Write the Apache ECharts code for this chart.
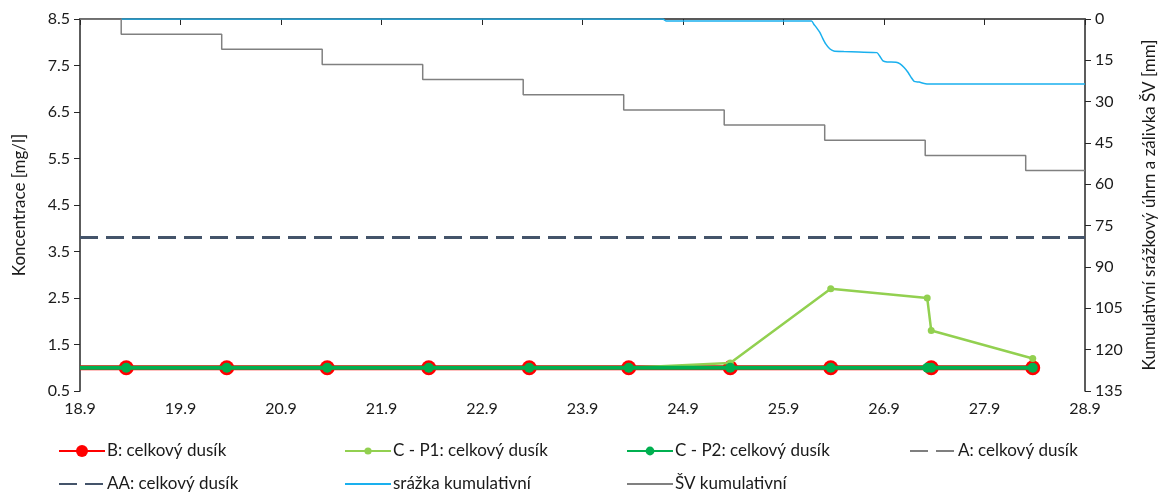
<!DOCTYPE html>
<html>
<head>
<meta charset="utf-8">
<script src="https://cdn.jsdelivr.net/npm/echarts@6/dist/echarts.min.js"></script>
<style>
  html, body { margin: 0; padding: 0; background: #fff; }
  #chart { width: 1168px; height: 495px; }
</style>
</head>
<body>
<div id="chart"></div>
<script>
// Day of September (x position) and tick labels
const xTickDays = [18, 19, 20, 21, 22, 23, 24, 25, 26, 27, 28];
const xTickLabels = ['18.9', '19.9', '20.9', '21.9', '22.9', '23.9', '24.9', '25.9', '26.9', '27.9', '28.9'];
const concTicks = [0.5, 1.5, 2.5, 3.5, 4.5, 5.5, 6.5, 7.5, 8.5];

// Sampling times (day of September) and total nitrogen concentrations [mg/l]
const sampleDays = [18.46, 19.46, 20.46, 21.47, 22.47, 23.46, 24.47, 25.47, 26.47, 27.48];
const nB = [1.0, 1.0, 1.0, 1.0, 1.0, 1.0, 1.0, 1.0, 1.0, 1.0];
const nA = [1.0, 1.0, 1.0, 1.0, 1.0, 1.0, 1.0, 1.0, 1.0, 1.0];
const p1Days = [18.46, 19.46, 20.46, 21.47, 22.47, 23.46, 24.47, 25.47, 26.43, 26.47, 27.48];
const nP1 = [1.0, 1.0, 1.0, 1.0, 1.0, 1.0, 1.1, 2.7, 2.5, 1.8, 1.2];
const p2Days = [18.46, 19.46, 20.46, 21.47, 22.47, 23.46, 24.47, 25.47, 26.43, 26.47, 27.48];
const nP2 = [1.0, 1.0, 1.0, 1.0, 1.0, 1.0, 1.0, 1.0, 1.0, 1.0, 1.0];
const limitDays = [18, 28];
const nAA = [3.8, 3.8];

// Cumulative rainfall [mm]
const rainDays = [18.41, 23.80, 23.83, 25.28, 25.30, 25.33, 25.36, 25.39, 25.42, 25.46, 25.50, 25.60, 25.75, 25.93, 25.96, 25.99, 26.03, 26.12, 26.16, 26.20, 26.24, 26.27, 26.30, 26.35, 26.40, 26.45, 28.0];
const rainCum = [0, 0, 0.7, 0.7, 1.8, 3.2, 4.8, 7.0, 9.0, 10.8, 11.6, 11.8, 12.0, 12.2, 13.6, 15.2, 15.6, 15.7, 16.3, 17.6, 19.4, 21.2, 22.6, 22.9, 23.4, 23.6, 23.6];

// Cumulative irrigation (ŠV) [mm]
const svDays = [18.0, 18.41, 19.41, 20.41, 21.41, 22.41, 23.41, 24.41, 25.41, 26.41, 27.41, 28.0];
const svCum = [0, 5.5, 11, 16.5, 22, 27.5, 33, 38.5, 44, 49.5, 55, 55];

const zip = (xs, ys) => xs.map((x, i) => [x, ys[i]]);

const FONT = 'Lato';
const TXT = '#1a1a1a';

const names = {
  B: 'B: celkový dusík',
  P1: 'C - P1: celkový dusík',
  P2: 'C - P2: celkový dusík',
  A: 'A: celkový dusík',
  AA: 'AA: celkový dusík',
  rain: 'srážka kumulativní',
  sv: 'ŠV kumulativní'
};

// One legend block per entry so each sits in its own column
function legendAt(name, left, centerY, markerH, showMarker) {
  return {
    data: [name], left: left, top: centerY - 11,
    height: 22,
    itemWidth: 46, itemHeight: markerH, itemGap: 0, padding: 0,
    itemStyle: showMarker ? {} : { opacity: 0 },
    textStyle: { fontFamily: FONT, fontSize: 17, color: TXT, padding: [0, 0, 0, -3], lineHeight: 22 }
  };
}

const chart = echarts.init(document.getElementById('chart'), null, { renderer: 'canvas' });
chart.setOption({
  animation: false,
  backgroundColor: '#ffffff',
  textStyle: { fontFamily: FONT },
  grid: { left: 80, right: 83, top: 19, bottom: 104, containLabel: false },
  legend: [
    legendAt(names.B, 58, 451, 15, true),
    legendAt(names.P1, 344, 451, 9, true),
    legendAt(names.P2, 626, 451, 11, true),
    legendAt(names.A, 909, 451, 12, false),
    legendAt(names.AA, 58, 484, 12, false),
    legendAt(names.rain, 344, 484, 12, false),
    legendAt(names.sv, 626, 484, 12, false)
  ],
  xAxis: [{
    type: 'value', min: 18, max: 28, interval: 1,
    axisLine: { lineStyle: { color: '#262626', width: 1.5 } },
    axisTick: { length: 6, lineStyle: { color: '#262626' } },
    splitLine: { show: false },
    axisLabel: {
      fontFamily: FONT, fontSize: 16, color: TXT, margin: 10,
      formatter: v => xTickLabels[xTickDays.indexOf(Math.round(v))]
    }
  }, {
    type: 'value', min: 18, max: 28, position: 'top',
    axisLine: { show: true, lineStyle: { color: '#595959', width: 1.5 } },
    axisTick: { show: false }, axisLabel: { show: false }, splitLine: { show: false }
  }],
  yAxis: [{
    type: 'value', min: 0.5, max: 8.5,
    name: 'Koncentrace [mg/l]', nameLocation: 'middle', nameGap: 52, nameRotate: 90,
    nameTextStyle: { fontFamily: FONT, fontSize: 17, color: TXT },
    axisLine: { show: true, lineStyle: { color: '#262626', width: 1.5 } },
    axisTick: { show: true, length: 6, customValues: concTicks, lineStyle: { color: '#262626' } },
    splitLine: { show: false },
    axisLabel: { fontFamily: FONT, fontSize: 16, color: TXT, margin: 10, customValues: concTicks,
      formatter: v => v.toFixed(1) }
  }, {
    type: 'value', min: 0, max: 135, interval: 15, inverse: true, position: 'right',
    name: 'Kumulativní srážkový úhrn a zálivka ŠV [mm]', nameLocation: 'middle', nameGap: 56, nameRotate: 90,
    nameTextStyle: { fontFamily: FONT, fontSize: 17, color: TXT },
    axisLine: { show: true, lineStyle: { color: '#262626', width: 1.5 } },
    axisTick: { show: true, length: 6, lineStyle: { color: '#262626' } },
    splitLine: { show: false },
    axisLabel: { fontFamily: FONT, fontSize: 16, color: TXT, margin: 10 }
  }],
  series: [
    {
      name: names.A, type: 'line', xAxisIndex: 0, yAxisIndex: 0, z: 1,
      data: zip(sampleDays, nA), symbol: 'none',
      lineStyle: { color: '#7f7f7f', width: 3, type: [18, 8] },
      itemStyle: { color: '#7f7f7f' }
    },
    {
      name: names.B, type: 'line', xAxisIndex: 0, yAxisIndex: 0, z: 2,
      data: [{ value: [18.0, nB[0]], symbol: 'none' }].concat(zip(sampleDays, nB)),
      symbol: 'circle', symbolSize: 15,
      lineStyle: { color: '#ff0000', width: 5 },
      itemStyle: { color: '#ff0000', borderWidth: 0 }
    },
    {
      name: names.P1, type: 'line', xAxisIndex: 0, yAxisIndex: 0, z: 3,
      data: zip(p1Days, nP1),
      symbol: 'circle', symbolSize: 7,
      lineStyle: { color: '#92d050', width: 2.5 },
      itemStyle: { color: '#92d050', borderWidth: 0 }
    },
    {
      name: names.P2, type: 'line', xAxisIndex: 0, yAxisIndex: 0, z: 4,
      data: [{ value: [18.0, nP2[0]], symbol: 'none' }].concat(zip(p2Days, nP2)),
      symbol: 'circle', symbolSize: 10,
      lineStyle: { color: '#00b050', width: 4 },
      itemStyle: { color: '#00b050', borderWidth: 0 }
    },
    {
      name: names.AA, type: 'line', xAxisIndex: 0, yAxisIndex: 0, z: 5,
      data: zip(limitDays, nAA), symbol: 'none',
      lineStyle: { color: '#44546a', width: 3, type: [18, 8] },
      itemStyle: { color: '#44546a' }
    },
    {
      name: names.rain, type: 'line', xAxisIndex: 0, yAxisIndex: 1, z: 6,
      data: zip(rainDays, rainCum), symbol: 'none', smooth: 0.2,
      lineStyle: { color: '#1ab0ee', width: 1.5 },
      itemStyle: { color: '#1ab0ee' }
    },
    {
      name: names.sv, type: 'line', xAxisIndex: 0, yAxisIndex: 1, z: 6,
      data: zip(svDays, svCum), symbol: 'none', step: 'end',
      lineStyle: { color: '#808080', width: 1.5 },
      itemStyle: { color: '#808080' }
    }
  ]
});
</script>
</body>
</html>
